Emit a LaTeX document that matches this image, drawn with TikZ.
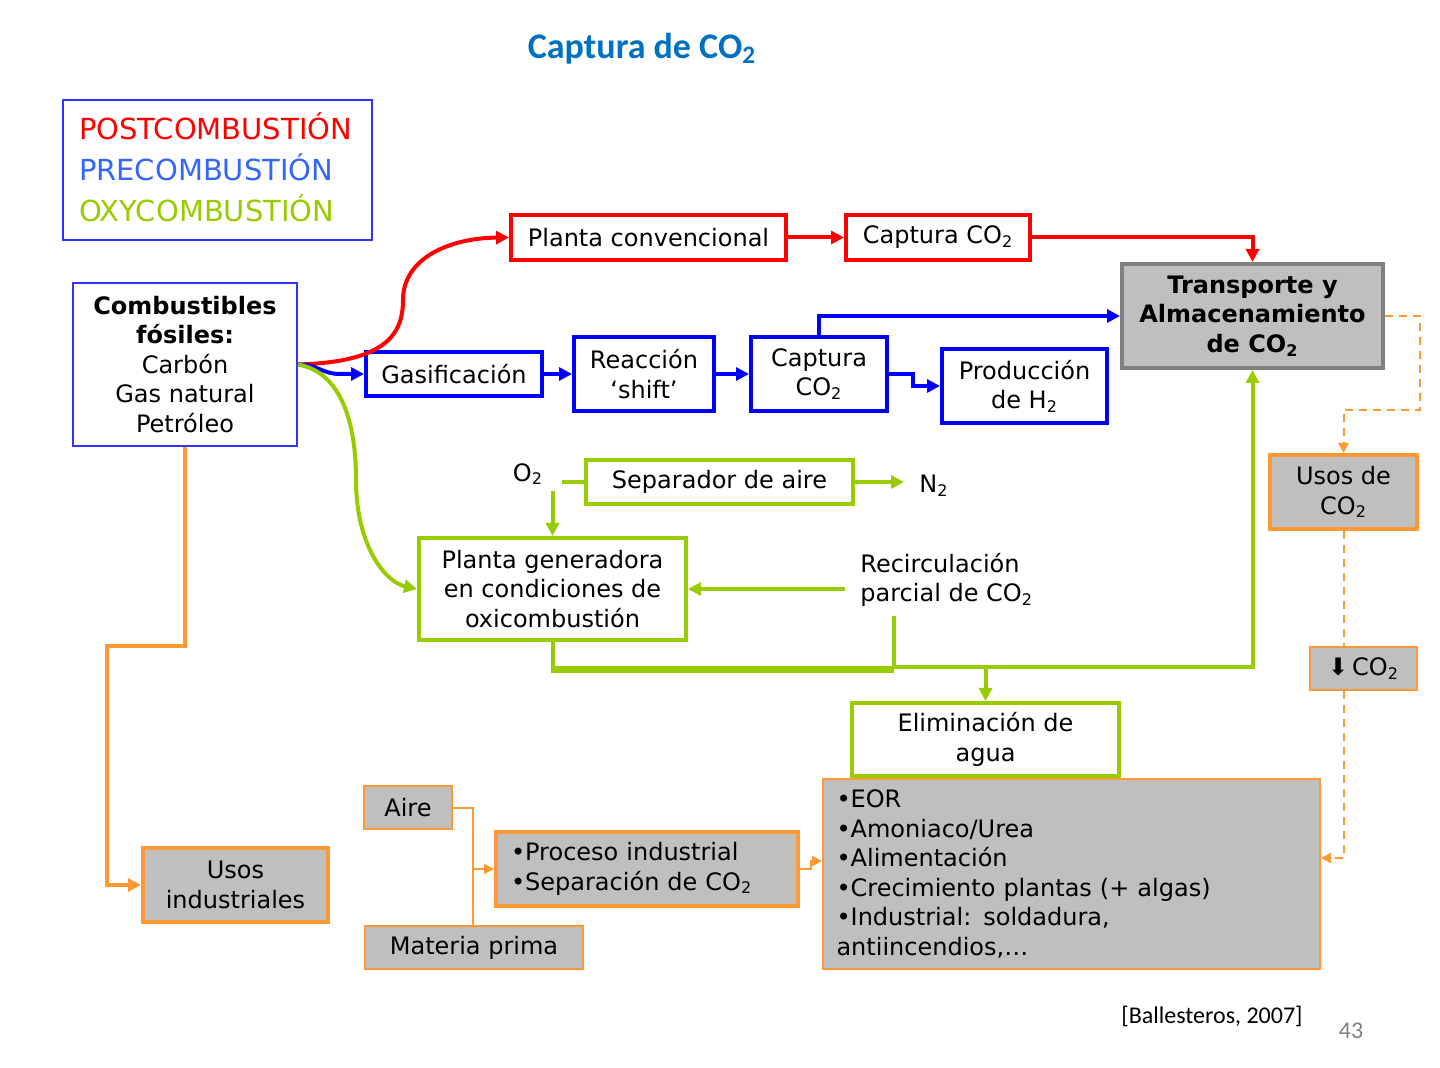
\documentclass[tikz,border=0pt]{standalone}
\usepackage{fontspec}
\setmainfont{DejaVu Sans}
\newfontfamily\calib{Carlito}
\usetikzlibrary{arrows.meta,calc}
\definecolor{cred}{RGB}{255,0,0}
\definecolor{cblue}{RGB}{0,0,255}
\definecolor{lblue}{RGB}{51,102,255}
\definecolor{bblue}{RGB}{51,51,255}
\definecolor{cgreen}{RGB}{153,204,0}
\definecolor{corange}{RGB}{255,153,51}
\definecolor{cgray}{RGB}{191,191,191}
\definecolor{dgray}{RGB}{128,128,128}
\definecolor{tblue}{RGB}{0,112,192}
\newcommand\cotwo{CO\textsubscript{2}}
\begin{document}
\begin{tikzpicture}[x=0.5pt,y=-0.5pt,
  every node/.style={font=\fontsize{12}{14.75}\selectfont, inner sep=1pt},
  bx/.style={draw, line width=2pt, fill=white, align=center},
  rbox/.style={bx, draw=cred},
  bbox/.style={bx, draw=cblue},
  gbox/.style={bx, draw=cgreen},
  obox/.style={bx, draw=corange, fill=cgray},
  othinbox/.style={obox, line width=1pt},
  tip/.style={-{Triangle[length=6.5pt,width=6.5pt]}},
  tipsm/.style={-{Triangle[length=5pt,width=5pt]}},
  rl/.style={draw=cred, line width=2pt},
  bl/.style={draw=cblue, line width=2pt},
  gl/.style={draw=cgreen, line width=2pt},
  ol/.style={draw=corange, line width=2pt},
  othin/.style={draw=corange, line width=1pt},
  dsh/.style={draw=corange, line width=1pt, dash pattern=on 4pt off 3pt}
]
\useasboundingbox (0,0) rectangle (1440,1068);

% title
\node (title) at (642,49) {\calib\bfseries\fontsize{18}{22}\selectfont\color{tblue}Captura de \cotwo};

% legend
\node[draw=bblue, line width=1pt, align=left, minimum width=154.5pt, minimum height=70pt,
      text width=138.5pt, inner xsep=8pt, font=\fontsize{14.5}{20.5}\selectfont] (legend) at (217.5,170)
  {\textcolor{cred}{POSTCOMBUSTIÓN}\\\textcolor{lblue}{PRECOMBUSTIÓN}\\\textcolor{cgreen}{OXYCOMBUSTIÓN}\vspace{3pt}};

% nodes
\node[bx, draw=bblue, line width=1pt, minimum width=112pt, minimum height=81.5pt] (comb) at (185,364.5)
  {\textbf{Combustibles}\\\textbf{fósiles:}\\Carbón\\Gas natural\\Petróleo};
\node[rbox, minimum width=137.5pt, minimum height=22.5pt] (planta) at (648.5,237.5) {Planta convencional};
\node[rbox, minimum width=92pt, minimum height=22.5pt] (capR) at (938,237.5) {Captura \cotwo};
\node[bx, draw=dgray, fill=cgray, minimum width=130.5pt, minimum height=52pt] (trans) at (1252.5,316)
  {\textbf{Transporte y}\\\textbf{Almacenamiento}\\\textbf{de \cotwo}};
\node[bbox, minimum width=88pt, minimum height=22pt] (gas) at (454,374) {Gasificación};
\node[bbox, minimum width=70pt, minimum height=37pt] (shift) at (644,374) {Reacción\\‘shift’};
\node[bbox, minimum width=68pt, minimum height=37pt] (capB) at (819,374) {Captura\\\cotwo};
\node[bbox, minimum width=82.5pt, minimum height=37pt] (prod) at (1024.5,386) {Producción\\de H\textsubscript{2}};
\node[gbox, minimum width=133.5pt, minimum height=22pt] (sep) at (719.5,482) {Separador de aire};
\node (o2) at (528,474) {O\textsubscript{2}};
\node (n2) at (934,486) {N\textsubscript{2}};
\node[gbox, minimum width=133.5pt, minimum height=51pt] (plantaG) at (552.5,589)
  {Planta generadora\\en condiciones de\\oxicombustión};
\node[anchor=west, align=left] (rec) at (858,580) {Recirculación\\parcial de \cotwo};
\node[othinbox, align=left, minimum width=248.5pt, minimum height=95pt, text width=235pt, inner xsep=6.75pt] (list) at (1071.5,874)
  {•EOR\\•Amoniaco/Urea\\•Alimentación\\•Crecimiento plantas (+ algas)\\•Industrial: soldadura,\\antiincendios,…};
\node[gbox, minimum width=133.5pt, minimum height=36.5pt] (elim) at (985.5,739.5) {Eliminación de\\agua};
\node[obox, minimum width=73.5pt, minimum height=37pt] (usosCO2) at (1343.5,492) {Usos de\\\cotwo};
\node[othinbox, minimum width=53.5pt, minimum height=21.5pt] (down) at (1363.5,668.5) {⬇\,\cotwo};
\node[obox, minimum width=92.5pt, minimum height=37pt] (usosInd) at (235.5,885) {Usos\\industriales};
\node[othinbox, minimum width=44pt, minimum height=21.5pt] (aire) at (408,807.5) {Aire};
\node[obox, align=left, minimum width=151pt, minimum height=37pt, text width=136pt, inner xsep=7.5pt] (proc) at (647,869)
  {•Proceso industrial\\•Separación de \cotwo};
\node[othinbox, minimum width=109pt, minimum height=21.5pt] (mat) at (474,947.5) {Materia prima};

\node (cite) at (1212,1016) {\calib\fontsize{12}{14}\selectfont [Ballesteros, 2007]};
\node (page) at (1351,1031) {\calib\fontsize{12}{14}\selectfont\color{dgray}43};

% red connectors
\draw[rl,tip] (comb.east) .. controls (385,362) and (403,335) .. (403,300) .. controls (403,258) and (450,238) .. (planta.west);
\draw[rl,tip] (planta.east) -- (capR.west);
\draw[rl,tip] (capR.east) -| (trans.north);

% blue connectors
\draw[bl,tip] (comb.east) .. controls (318,364.5) and (322,374) .. (340,374) -- (gas.west);
\draw[bl,tip] (gas.east) -- (shift.west);
\draw[bl,tip] (shift.east) -- (capB.west);
\draw[bl,tip] (capB.north) |- (trans.west);
\draw[bl,tip] (capB.east) -- ++(24,0) |- (prod.west);

% green connectors
\draw[gl,tip] (comb.east) .. controls (340,372) and (356,420) .. (356,480) .. controls (356,545) and (385,582) .. (plantaG.west);
\coordinate (o2r) at (562,482);
\draw[gl] (o2r) -- (sep.west);
\coordinate (o2d) at (552.5,491);
\draw[gl,tip] (o2d) -- (plantaG.north);
\coordinate (n2l) at (904,482);
\draw[gl,tip] (sep.east) -- (n2l);
\coordinate (reca) at (845,589);
\draw[gl,tip] (reca) -- (plantaG.east);
\coordinate (recb) at (894,616);
\coordinate (j0) at (552.5,669.5);
\coordinate (j1) at (894,669.5);
\coordinate (k1) at (894,667);
\draw[gl] (recb) -- (k1);
\draw[gl] (plantaG.south) -- (j0);
\draw[draw=cgreen, line width=3.5pt] ($(j0)+(-2,0)$) -- (j1);
\draw[gl,tip] (k1) -| (trans.south);
\coordinate (j2) at (985.5,667);
\draw[gl,tip] (j2) -- (elim.north);

% orange connectors
\coordinate (o1) at (107,646);
\draw[ol,tip] (comb.south) |- (o1) |- (usosInd.west);
\coordinate (oj) at (473,869);
\draw[othin,tipsm] (aire.east) -| (oj) -- (proc.west);
\draw[othin] (mat.north -| oj) -- (oj);
\coordinate (pl) at (822,861);
\draw[othin,tipsm] (proc.east) -- ++(11,0) |- (pl);
\coordinate (d1) at (1420,410);
\draw[dsh,tipsm] (trans.east) -| (d1) -| (usosCO2.north);
\draw[dsh] (usosCO2.south) -- (usosCO2.south |- down.north);
\coordinate (le) at (1321,858);
\draw[dsh,tipsm] (usosCO2.south |- down.south) |- (le);
\end{tikzpicture}
\end{document}
